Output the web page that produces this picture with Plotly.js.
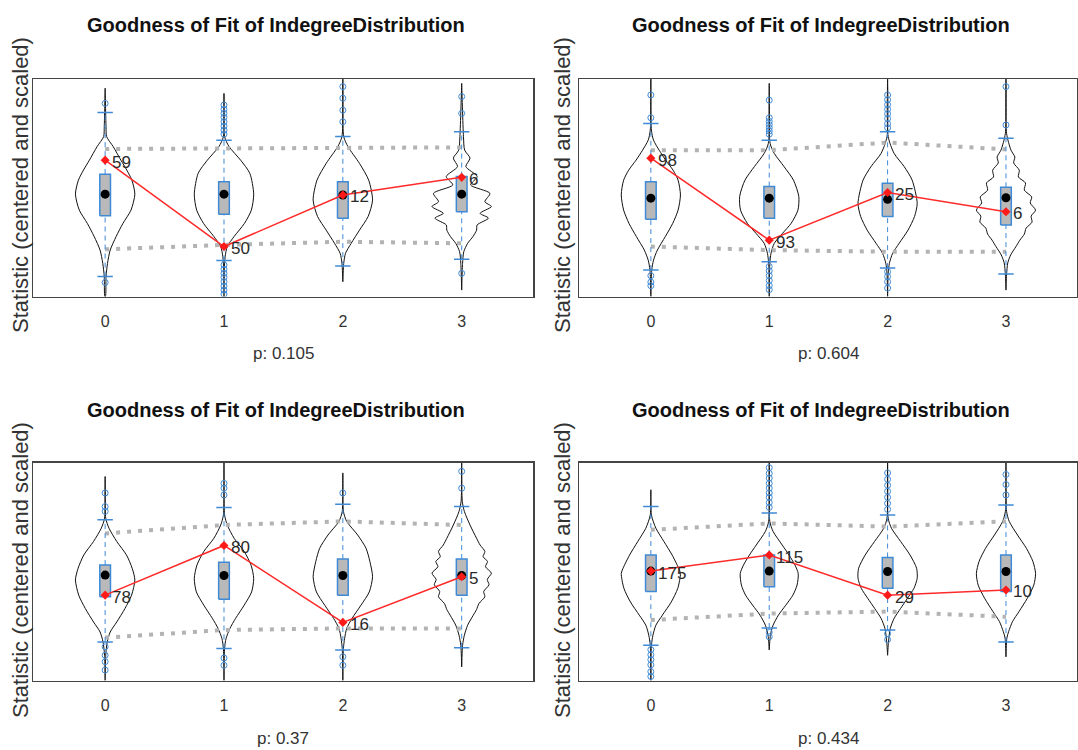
<!DOCTYPE html>
<html><head><meta charset="utf-8">
<script src="https://cdn.plot.ly/plotly-3.0.1.min.js"></script>
<style>html,body{margin:0;padding:0;background:#fff}#chart{width:1078px;height:750px}</style>
</head><body><div id="chart"></div><script>
// ---------- shared text ----------
const categories = [0, 1, 2, 3];
const tickLabels = ['0', '1', '2', '3'];
const panelTitle = 'Goodness of Fit of IndegreeDistribution';
const yAxisTitle = 'Statistic (centered and scaled)';
const pValueLabels = ['p: 0.105', 'p: 0.604', 'p: 0.37', 'p: 0.434'];

// ---------- panel A (top-left) ----------
const observedA = [0.69, -1.47, -0.18, 0.26];
const observedLabelA = ['59', '50', '12', '6'];
const medianA = [-0.16, -0.16, -0.18, -0.16];
const q1A = [-0.70, -0.66, -0.76, -0.60];
const q3A = [0.34, 0.15, 0.15, 0.28];
const whiskerLowA = [-2.22, -1.82, -1.96, -1.79];
const whiskerHighA = [1.88, 1.19, 1.28, 1.40];
const outliersA = [[2.11, -2.37], [2.07, 1.96, 1.86, 1.76, 1.65, 1.54, 1.44, 1.34, -1.93, -2.04, -2.14, -2.24, -2.35, -2.46, -2.56, -2.66], [2.53, 2.24, 1.94, 1.65], [2.28, 1.86, -2.14]];
const bandHighA = [0.97, 0.99, 1.01, 1.01];
const bandLowA = [-1.54, -1.43, -1.35, -1.39];
const violinLevelsA = [
  [2.49, 1.53, 1.28, 1.03, 0.69, 0.44, 0.19, -0.16, -0.56, -0.89, -1.22, -1.56, -1.89, -2.22, -2.72],
  [2.36, 1.28, 1.03, 0.69, 0.36, -0.16, -0.56, -0.89, -1.22, -1.47, -1.72, -2.06, -2.72],
  [2.72, 1.28, 1.03, 0.61, 0.19, -0.31, -0.72, -1.06, -1.39, -1.64, -1.89, -2.35],
  [2.61, 1.28, 0.94, 0.74, 0.53, 0.28, 0.07, -0.14, -0.35, -0.47, -0.64, -0.76, -0.93, -1.06, -1.22, -1.39, -1.6, -1.89, -2.56]
];
const violinDensityA = [
  [0, 0.03, 0.05, 0.27, 0.53, 0.73, 0.9, 1.0, 0.87, 0.6, 0.37, 0.17, 0.08, 0.03, 0.01],
  [0, 0.02, 0.17, 0.56, 0.87, 1.0, 0.92, 0.69, 0.34, 0.11, 0.04, 0.01, 0],
  [0, 0.03, 0.17, 0.56, 0.87, 1.0, 0.85, 0.56, 0.28, 0.09, 0.03, 0],
  [0, 0.06, 0.1, 0.28, 0.14, 0.52, 0.3, 0.95, 0.78, 1.0, 0.62, 0.9, 0.52, 0.5, 0.38, 0.2, 0.07, 0.03, 0]
];

// ---------- panel B (top-right) ----------
const observedB = [0.74, -1.31, -0.12, -0.6];
const observedLabelB = ['98', '93', '25', '6'];
const medianB = [-0.26, -0.26, -0.29, -0.25];
const q1B = [-0.79, -0.76, -0.72, -0.93];
const q3B = [0.15, 0.03, 0.11, 0.01];
const whiskerLowB = [-2.06, -1.85, -2.01, -2.16];
const whiskerHighB = [1.61, 1.19, 1.40, 1.24];
const outliersB = [[2.32, 1.75, -2.2, -2.36, -2.45], [2.19, 1.75, 1.66, 1.58, 1.5, 1.42, 1.34, -1.97, -2.08, -2.2, -2.32, -2.45, -2.55], [2.32, 2.2, 2.08, 1.96, 1.85, 1.73, 1.6, 1.5, -2.1, -2.22, -2.35, -2.51], [2.53, 1.57]];
const bandHighB = [0.94, 0.94, 1.13, 0.96];
const bandLowB = [-1.47, -1.56, -1.6, -1.6];
const violinLevelsB = [
  [2.72, 1.44, 1.19, 0.94, 0.69, 0.44, 0.19, -0.18, -0.56, -0.89, -1.22, -1.56, -1.81, -2.06, -2.72],
  [2.61, 1.11, 0.86, 0.53, 0.19, -0.22, -0.56, -0.89, -1.14, -1.39, -1.64, -1.89, -2.72],
  [2.72, 1.28, 0.86, 0.53, 0.19, -0.39, -0.72, -1.06, -1.39, -1.64, -1.89, -2.14, -2.72],
  [2.72, 1.36, 0.94, 0.77, 0.62, 0.44, 0.27, 0.12, -0.06, -0.23, -0.38, -0.56, -0.71, -0.86, -1.01, -1.16, -1.31, -1.48, -1.68, -1.88, -2.18, -2.56]
];
const violinDensityB = [
  [0, 0.02, 0.09, 0.28, 0.5, 0.75, 0.92, 1.0, 0.92, 0.74, 0.49, 0.22, 0.09, 0.03, 0],
  [0, 0.03, 0.17, 0.5, 0.82, 1.0, 0.97, 0.74, 0.45, 0.17, 0.06, 0.02, 0],
  [0, 0.02, 0.22, 0.56, 0.83, 1.0, 0.91, 0.69, 0.39, 0.17, 0.06, 0.02, 0],
  [0, 0.02, 0.17, 0.3, 0.26, 0.45, 0.42, 0.66, 0.62, 0.87, 0.82, 1.0, 0.85, 0.88, 0.68, 0.62, 0.47, 0.33, 0.16, 0.06, 0.02, 0]
];

// ---------- panel C (bottom-left) ----------
const observedC = [-0.59, 0.65, -1.27, -0.13];
const observedLabelC = ['78', '80', '16', '5'];
const medianC = [-0.09, -0.1, -0.1, -0.1];
const q1C = [-0.63, -0.69, -0.59, -0.59];
const q3C = [0.16, 0.23, 0.31, 0.31];
const whiskerLowC = [-1.76, -1.92, -1.96, -1.9];
const whiskerHighC = [1.29, 1.6, 1.68, 1.62];
const outliersC = [[1.96, 1.62, 1.5, -1.88, -2.09, -2.25, -2.46], [2.2, 2.08, 1.91, -2.16, -2.34], [1.96, -2.13, -2.34], [2.5, 2.08]];
const bandHighC = [0.95, 1.16, 1.25, 1.16];
const bandLowC = [-1.65, -1.46, -1.42, -1.42];
const violinLevelsC = [
  [2.37, 1.33, 1.08, 0.75, 0.41, 0.08, -0.21, -0.59, -0.92, -1.26, -1.51, -1.76, -2.09, -2.72],
  [2.72, 1.41, 1.16, 0.83, 0.5, 0.16, -0.17, -0.51, -0.84, -1.17, -1.42, -1.67, -1.92, -2.72],
  [2.46, 1.5, 1.25, 0.91, 0.58, 0.25, -0.13, -0.51, -0.84, -1.17, -1.42, -1.67, -1.92, -2.72],
  [2.72, 1.75, 1.5, 1.16, 0.83, 0.66, 0.5, 0.37, 0.25, 0.12, -0.04, -0.2, -0.33, -0.5, -0.63, -0.8, -0.95, -1.09, -1.34, -1.59, -1.84, -2.38]
];
const violinDensityC = [
  [0, 0.02, 0.13, 0.39, 0.72, 0.91, 1.0, 0.89, 0.67, 0.39, 0.17, 0.07, 0.02, 0],
  [0, 0.02, 0.11, 0.34, 0.68, 0.91, 1.0, 0.93, 0.68, 0.39, 0.2, 0.07, 0.02, 0],
  [0, 0.02, 0.13, 0.5, 0.78, 0.91, 1.0, 0.89, 0.61, 0.31, 0.13, 0.06, 0.02, 0],
  [0, 0.02, 0.09, 0.28, 0.5, 0.62, 0.78, 0.72, 0.87, 0.8, 1.0, 0.86, 0.92, 0.74, 0.78, 0.58, 0.5, 0.39, 0.2, 0.09, 0.03, 0]
];

// ---------- panel D (bottom-right) ----------
const observedD = [0.01, 0.41, -0.59, -0.46];
const observedLabelD = ['175', '115', '29', '10'];
const medianD = [0.01, 0.01, 0.0, 0.0];
const q1D = [-0.5, -0.38, -0.42, -0.5];
const q3D = [0.41, 0.41, 0.35, 0.41];
const whiskerLowD = [-1.84, -1.41, -1.46, -1.76];
const whiskerHighD = [1.62, 1.46, 1.41, 1.66];
const outliersD = [[-1.95, -2.08, -2.2, -2.33, -2.5, -2.62], [2.59, 2.45, 2.33, 2.2, 2.08, 1.96, 1.85, 1.72, 1.6, -1.52, -1.63], [2.46, 2.3, 2.15, 2.0, 1.85, 1.7, 1.55, -1.55, -1.7], [2.42, 2.17, 1.91]];
const bandHighD = [1.04, 1.2, 1.12, 1.25];
const bandLowD = [-1.21, -1.05, -1.0, -1.13];
const violinLevelsD = [
  [2.04, 1.41, 1.08, 0.75, 0.41, 0.08, -0.05, -0.42, -0.76, -1.09, -1.34, -1.59, -1.84, -2.72],
  [2.72, 1.25, 1.0, 0.66, 0.41, 0.16, -0.05, -0.34, -0.59, -0.84, -1.09, -1.34, -1.59, -1.96],
  [2.72, 1.33, 1.08, 0.75, 0.41, 0.08, -0.17, -0.42, -0.67, -0.92, -1.17, -1.42, -1.76, -2.09],
  [2.72, 1.5, 1.25, 0.91, 0.58, 0.25, -0.05, -0.34, -0.67, -1.0, -1.25, -1.5, -1.66, -2.13]
];
const violinDensityD = [
  [0, 0.02, 0.17, 0.44, 0.72, 0.94, 1.0, 0.91, 0.69, 0.39, 0.17, 0.07, 0.02, 0],
  [0, 0.02, 0.13, 0.44, 0.67, 0.87, 0.98, 0.94, 0.8, 0.56, 0.31, 0.13, 0.04, 0],
  [0, 0.02, 0.13, 0.44, 0.76, 0.98, 1.0, 0.89, 0.67, 0.44, 0.22, 0.09, 0.03, 0],
  [0, 0.02, 0.11, 0.39, 0.69, 0.91, 1.0, 0.94, 0.72, 0.44, 0.22, 0.09, 0.03, 0]
];

// ---------- styling ----------
const VIOLIN_HALF = 0.25;   // x-units at density 1
const BOX_HALF = 0.045;
const BLUE = '#3f8ad6';
const SANS = '"Liberation Sans", Arial, Helvetica, sans-serif';

const panels = [
  {xa: 'x', ya: 'y', obs: observedA, lab: observedLabelA, med: medianA, q1: q1A, q3: q3A, wl: whiskerLowA, wh: whiskerHighA, out: outliersA, bh: bandHighA, bl: bandLowA, vy: violinLevelsA, vd: violinDensityA},
  {xa: 'x2', ya: 'y2', obs: observedB, lab: observedLabelB, med: medianB, q1: q1B, q3: q3B, wl: whiskerLowB, wh: whiskerHighB, out: outliersB, bh: bandHighB, bl: bandLowB, vy: violinLevelsB, vd: violinDensityB},
  {xa: 'x3', ya: 'y3', obs: observedC, lab: observedLabelC, med: medianC, q1: q1C, q3: q3C, wl: whiskerLowC, wh: whiskerHighC, out: outliersC, bh: bandHighC, bl: bandLowC, vy: violinLevelsC, vd: violinDensityC},
  {xa: 'x4', ya: 'y4', obs: observedD, lab: observedLabelD, med: medianD, q1: q1D, q3: q3D, wl: whiskerLowD, wh: whiskerHighD, out: outliersD, bh: bandHighD, bl: bandLowD, vy: violinLevelsD, vd: violinDensityD}
];

const traces = [];
const base = {hoverinfo: 'skip', showlegend: false};

// violins
panels.forEach(p => {
  categories.forEach((c, i) => {
    const ys = p.vy[i], ds = p.vd[i];
    const xs = [], yy = [];
    ys.forEach((y, k) => { xs.push(c + ds[k] * VIOLIN_HALF); yy.push(y); });
    for (let k = ys.length - 1; k >= 0; k--) { xs.push(c - ds[k] * VIOLIN_HALF); yy.push(ys[k]); }
    xs.push(xs[0]); yy.push(yy[0]);
    traces.push(Object.assign({type: 'scatter', mode: 'lines', x: xs, y: yy, xaxis: p.xa, yaxis: p.ya,
      fill: 'toself', fillcolor: '#ffffff', line: {color: '#111', width: 1, shape: 'spline', smoothing: 0.7}}, base));
  });
});

// dotted quantile bands
panels.forEach(p => {
  [p.bh, p.bl].forEach(band => {
    traces.push(Object.assign({type: 'scatter', mode: 'lines', x: categories, y: band, xaxis: p.xa, yaxis: p.ya,
      line: {color: '#b3b3b3', width: 4, dash: '4px,7px'}}, base));
  });
});

// whiskers (dashed) + caps
panels.forEach(p => {
  const xs = [], ys = [];
  categories.forEach((c, i) => {
    xs.push(c, c, null, c, c, null);
    ys.push(p.wl[i], p.q1[i], null, p.q3[i], p.wh[i], null);
  });
  traces.push(Object.assign({type: 'scatter', mode: 'lines', x: xs, y: ys, xaxis: p.xa, yaxis: p.ya,
    line: {color: BLUE, width: 1, dash: '5px,4px'}}, base));
  const cx = [], cy = [];
  categories.forEach((c, i) => { cx.push(c, c); cy.push(p.wl[i], p.wh[i]); });
  traces.push(Object.assign({type: 'scatter', mode: 'markers', x: cx, y: cy, xaxis: p.xa, yaxis: p.ya,
    marker: {symbol: 'line-ew', size: 11, color: BLUE, line: {color: BLUE, width: 1.5}}}, base));
});

// outliers
panels.forEach(p => {
  const ox = [], oy = [];
  categories.forEach((c, i) => p.out[i].forEach(v => { ox.push(c); oy.push(v); }));
  traces.push(Object.assign({type: 'scatter', mode: 'markers', x: ox, y: oy, xaxis: p.xa, yaxis: p.ya,
    marker: {symbol: 'circle-open', size: 6, color: BLUE, line: {color: BLUE, width: 1}}}, base));
});

// boxes
panels.forEach(p => {
  categories.forEach((c, i) => {
    traces.push(Object.assign({type: 'scatter', mode: 'lines',
      x: [c - BOX_HALF, c + BOX_HALF, c + BOX_HALF, c - BOX_HALF, c - BOX_HALF],
      y: [p.q1[i], p.q1[i], p.q3[i], p.q3[i], p.q1[i]], xaxis: p.xa, yaxis: p.ya,
      fill: 'toself', fillcolor: '#b9b9b9', line: {color: BLUE, width: 1.5}}, base));
  });
});

// medians
panels.forEach(p => {
  traces.push(Object.assign({type: 'scatter', mode: 'markers', x: categories, y: p.med, xaxis: p.xa, yaxis: p.ya,
    marker: {symbol: 'circle', size: 9, color: '#000'}}, base));
});

// observed (red)
panels.forEach(p => {
  traces.push(Object.assign({type: 'scatter', mode: 'lines+markers', x: categories, y: p.obs, xaxis: p.xa, yaxis: p.ya,
    line: {color: '#ff2a2a', width: 1.5}, marker: {symbol: 'diamond', size: 7, color: '#ff1a1a'}}, base));
});

// ---------- layout ----------
const xRange = [-0.607, 3.6];
const yRange = [-2.72, 2.72];
function xAxis(domain, anchor) {
  return {domain: domain, anchor: anchor, range: xRange, tickvals: categories, ticktext: tickLabels,
    ticks: '', ticklabelstandoff: 10, showgrid: false, zeroline: false,
    showline: true, mirror: true, linecolor: '#444', linewidth: 1.5,
    tickfont: {family: SANS, size: 16, color: '#333'}, fixedrange: true};
}
function yAxis(domain, anchor) {
  return {domain: domain, anchor: anchor, range: yRange, showticklabels: false, ticks: '', showgrid: false,
    zeroline: false, showline: true, mirror: true, linecolor: '#444', linewidth: 1.5, fixedrange: true};
}
const LX = [33 / 1078, 533 / 1078], RX = [579 / 1078, 1077 / 1078];
const TY = [1 - 296.5 / 750, 1 - 79 / 750], BY = [1 - 680.5 / 750, 1 - 462.5 / 750];

const titleFont = {family: SANS, size: 20, color: '#111', weight: 'bold'};
const yTitleFont = {family: SANS, size: 22, color: '#333'};
const pFont = {family: SANS, size: 17, color: '#333'};
const labelFont = {family: SANS, size: 17, color: '#2a2a2a'};
const annPos = [
  {tx: 276 / 1078, ty: 1 - 25 / 750, yx: 20 / 1078, yy: 1 - 185 / 750, px: 283 / 1078, py: 1 - 353 / 750},
  {tx: 821 / 1078, ty: 1 - 25 / 750, yx: 562 / 1078, yy: 1 - 185 / 750, px: 828 / 1078, py: 1 - 353 / 750},
  {tx: 276 / 1078, ty: 1 - 410 / 750, yx: 20 / 1078, yy: 1 - 570 / 750, px: 283 / 1078, py: 1 - 738 / 750},
  {tx: 821 / 1078, ty: 1 - 410 / 750, yx: 562 / 1078, yy: 1 - 570 / 750, px: 828 / 1078, py: 1 - 738 / 750}
];
const annotations = [];
annPos.forEach((a, i) => {
  annotations.push({xref: 'paper', yref: 'paper', x: a.tx, y: a.ty, text: '<b>' + panelTitle + '</b>', showarrow: false,
    xanchor: 'center', yanchor: 'middle', font: titleFont});
  annotations.push({xref: 'paper', yref: 'paper', x: a.yx, y: a.yy, text: yAxisTitle, textangle: -90, showarrow: false,
    xanchor: 'center', yanchor: 'middle', font: yTitleFont});
  annotations.push({xref: 'paper', yref: 'paper', x: a.px, y: a.py, text: pValueLabels[i], showarrow: false,
    xanchor: 'center', yanchor: 'middle', font: pFont});
});
// observed-value labels next to red points
panels.forEach(p => {
  categories.forEach((c, i) => {
    annotations.push({xref: p.xa, yref: p.ya, x: c, y: p.obs[i], text: p.lab[i], showarrow: false,
      xanchor: 'left', yanchor: 'middle', xshift: 5, yshift: -2, font: labelFont});
  });
});

const layout = {
  width: 1078, height: 750, margin: {l: 0, r: 0, t: 0, b: 0},
  paper_bgcolor: '#fff', plot_bgcolor: '#fff', showlegend: false,
  xaxis: xAxis(LX, 'y'), yaxis: yAxis(TY, 'x'),
  xaxis2: xAxis(RX, 'y2'), yaxis2: yAxis(TY, 'x2'),
  xaxis3: xAxis(LX, 'y3'), yaxis3: yAxis(BY, 'x3'),
  xaxis4: xAxis(RX, 'y4'), yaxis4: yAxis(BY, 'x4'),
  annotations: annotations
};
Plotly.newPlot('chart', traces, layout, {staticPlot: true, displayModeBar: false});
</script></body></html>
